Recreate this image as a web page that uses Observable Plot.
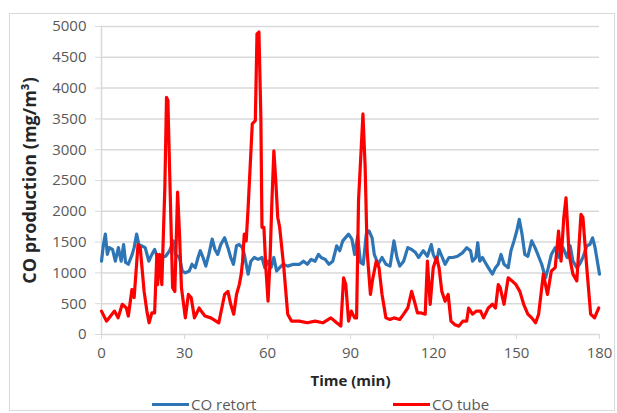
<!DOCTYPE html>
<html>
<head>
<meta charset="utf-8">
<script src="https://cdn.jsdelivr.net/npm/d3@7"></script>
<script src="https://cdn.jsdelivr.net/npm/@observablehq/plot@0.6"></script>
<style>
  html, body { margin: 0; padding: 0; background: #fff; }
  #wrap { position: relative; width: 617px; height: 413px; overflow: hidden; font-family: "Open Sans", sans-serif; }
  #frame { position: absolute; left: 9px; top: 13px; width: 606px; height: 398px; border: 1px solid #d9d9d9; box-sizing: border-box; pointer-events: none; }
  #chart { position: absolute; left: 0; top: 0; }
  .key { position: absolute; top: 394px; height: 20px; display: flex; align-items: center; font-size: 15px; color: #595959; }
  .key span.sw { display: inline-block; width: 37px; height: 3px; margin-right: 2px; }
</style>
</head>
<body>
<div id="wrap">
  <div id="chart"></div>
  <div class="key" style="left:152px"><span class="sw" style="background:#2e75b6"></span>CO retort</div>
  <div class="key" style="left:393px"><span class="sw" style="background:#ff0000"></span>CO tube</div>
  <div id="frame"></div>
</div>
<script>
// Axis ticks
const xTicks = [0, 30, 60, 90, 120, 150, 180];
const yTicks = [0, 500, 1000, 1500, 2000, 2500, 3000, 3500, 4000, 4500, 5000];

// CO retort: time (min) and concentration (mg/m3)
const retortTime = [0, 0.7, 1.4, 2.1, 2.8, 4, 5, 6.1, 7.1, 8, 8.7, 9.7, 11.1, 11.8, 12.7, 13.5, 14.4, 15.8, 17.1, 18.2,
  19.2, 20.3, 21.8, 23.2, 24.6, 26, 26.7, 28.2, 29.2, 30.3, 31.7, 32.7, 33.9, 34.9, 35.7, 36.7, 37.7, 38.8, 40, 41,
  42, 43.1, 44.5, 45.7, 46.7, 47.7, 48.8, 49.8, 50.9, 51.6, 53, 54, 55.2, 56.6, 58, 59, 60.2, 61.3, 62.3, 63.3,
  64.4, 65.6, 67.3, 69.4, 71.6, 73, 74.4, 75.8, 77.2, 78.4, 79.4, 80.8, 82.2, 83.6, 85, 86.1, 87.2, 89.3, 90.5, 91.5,
  92.6, 93.6, 94.6, 95.7, 96.7, 97.8, 98.6, 100, 101.4, 102.8, 104.3, 105.7, 106.8, 107.8, 109.2, 110.7, 112.1, 113.5, 114.6, 116.3,
  117.8, 119.2, 119.9, 121.1, 122, 123, 124.2, 125.6, 127, 128.7, 130.6, 132, 133.4, 134.1, 135.3, 136, 136.7, 137.7, 138.7, 139.8,
  141.3, 142.4, 143.4, 144.4, 145.5, 147, 148, 149.1, 150.1, 151, 152, 153, 154.1, 155.5, 156.7, 157.7, 159.1, 160.5, 161.5, 162.6,
  164, 165.4, 166.8, 168.3, 169.4, 170.4, 171.8, 172.8, 174, 175.4, 176.5, 177.5, 178.4, 180];
const retortCO = [1190, 1460, 1630, 1300, 1410, 1380, 1190, 1410, 1190, 1460, 1170, 1140, 1300, 1410, 1630, 1460, 1440, 1410, 1190, 1300,
  1380, 1250, 1250, 1270, 1360, 1520, 1300, 1250, 1030, 1000, 1030, 1140, 1085, 1250, 1360, 1250, 1110, 1300, 1550, 1380,
  1300, 1460, 1570, 1410, 1250, 1140, 1440, 1460, 1410, 1300, 980, 1190, 1250, 1220, 1250, 1085, 1190, 1085, 1250, 1030,
  1085, 1140, 1110, 1140, 1140, 1190, 1140, 1220, 1190, 1300, 1250, 1220, 1140, 1190, 1440, 1360, 1520, 1630, 1550, 1300,
  1600, 1170, 1140, 1630, 1680, 1570, 1300, 1140, 1250, 1140, 1110, 1520, 1250, 1110, 1190, 1410, 1380, 1330, 1250, 1360,
  1270, 1460, 1300, 1190, 1380, 1270, 1140, 1250, 1250, 1270, 1330, 1410, 1360, 1190, 1250, 1490, 1190, 1250, 1170, 1085,
  980, 1085, 1140, 1300, 1140, 1085, 1360, 1520, 1680, 1870, 1630, 1300, 1270, 1520, 1410, 1300, 1140, 920, 1085, 1300,
  1410, 1250, 1410, 1250, 1440, 1190, 1085, 1140, 1250, 1440, 1460, 1570, 1410, 980];

// CO tube: time (min) and concentration (mg/m3)
const tubeTime = [0, 1.8, 4.7, 6, 7.5, 9, 9.7, 11, 11.8, 13.2, 14, 15.4, 16.4, 17.2, 18.2, 19.2, 20, 20.3, 21, 21.8,
  22.9, 23.5, 24, 24.6, 25.7, 26.5, 27.5, 28.2, 28.9, 30.3, 31.4, 32.4, 33.6, 35.3, 36, 37.4, 39.5, 42.4, 44.5, 45.7,
  46.7, 47.8, 48.8, 49.8, 50.5, 51, 51.6, 52.3, 53, 54.5, 55.6, 56.2, 56.9, 57.6, 58, 58.7, 59.4, 60.2, 60.9, 61.6,
  62.3, 63, 63.7, 64.4, 65.9, 67.3, 68.7, 71.5, 74.4, 77.2, 80, 82.9, 85, 86.5, 87.5, 88.3, 89.3, 90.3, 91.5, 92.2,
  92.9, 94.5, 95.3, 96, 97.2, 97.9, 99.3, 100.3, 101.4, 102.8, 104.3, 105.7, 107.8, 109.2, 110.7, 112.1, 113.1, 114.2, 115.6, 117,
  117.8, 118.8, 119.9, 121.1, 122, 123, 124.2, 125.3, 126.3, 127.7, 129.2, 130.6, 132, 132.7, 134.1, 135.5, 137, 138.1, 139.8, 141.3,
  142.4, 143.4, 144.1, 145.5, 147, 148.4, 149.8, 151.2, 152.6, 154.1, 155.5, 156.9, 158, 159.7, 161.2, 162.6, 164, 165.2, 166.1, 167.1,
  167.9, 169, 170.4, 171.8, 173.3, 174, 175.4, 176.8, 178.2, 179.7];
const tubeCO = [380, 217, 380, 270, 490, 430, 300, 730, 600, 1460, 1410, 700, 380, 190, 350, 350, 1300, 810, 1300, 810,
  2390, 3850, 3800, 2710, 760, 700, 2310, 1630, 760, 270, 650, 600, 270, 430, 380, 300, 270, 190, 650, 700,
  490, 330, 650, 810, 980, 1190, 1630, 1520, 2060, 3420, 3470, 4880, 4910, 3530, 1740, 1740, 1085, 540, 1190, 2170,
  2980, 2490, 1900, 1740, 1085, 330, 217, 217, 190, 217, 190, 270, 190, 136, 920, 810, 217, 380, 270, 270,
  2170, 3580, 2710, 1360, 650, 870, 1190, 1085, 650, 270, 244, 270, 244, 330, 430, 700, 540, 350, 350, 330,
  1190, 490, 1085, 1250, 1085, 700, 540, 650, 217, 160, 136, 217, 217, 430, 330, 380, 380, 270, 430, 490,
  430, 810, 760, 490, 920, 870, 810, 700, 490, 330, 270, 190, 330, 980, 650, 1030, 1085, 1680, 1190, 1900,
  2220, 1300, 980, 870, 1950, 1900, 1085, 330, 270, 430];

const retort = retortTime.map((t, i) => ({t, v: retortCO[i]}));
const tube = tubeTime.map((t, i) => ({t, v: tubeCO[i]}));

const chart = Plot.plot({
  width: 617,
  height: 392,
  marginLeft: 101,
  marginRight: 18,
  marginTop: 26,
  marginBottom: 58,
  style: {fontFamily: "Open Sans, sans-serif", fontSize: "15px", color: "#595959", background: "transparent"},
  x: {domain: [0, 180]},
  y: {domain: [0, 5000]},
  marks: [
    Plot.gridY(yTicks, {stroke: "#d9d9d9", strokeOpacity: 1, strokeWidth: 1.5}),
    Plot.ruleX([0], {stroke: "#d9d9d9", strokeWidth: 1.5}),
    Plot.axisY(yTicks, {tickSize: 6, tickPadding: 9, stroke: "#d9d9d9", strokeOpacity: 1, label: null, tickFormat: d => String(d)}),
    Plot.axisX(xTicks, {tickSize: 5, tickPadding: 8, stroke: "#d9d9d9", strokeOpacity: 1, label: null}),
    Plot.line(retort, {x: "t", y: "v", stroke: "#2e75b6", strokeWidth: 3.2, curve: "linear"}),
    Plot.line(tube, {x: "t", y: "v", stroke: "#ff0000", strokeWidth: 3.2, curve: "linear"}),
    Plot.text(["Time (min)"], {text: d => d, frameAnchor: "bottom", dy: 51, fontWeight: "bold", fill: "#262626", fontSize: 15}),
    Plot.text(["CO production (mg/m³)"], {text: d => d, frameAnchor: "left", dx: -71, rotate: -90, textAnchor: "middle", fontWeight: "bold", fill: "#262626", fontSize: 18})
  ]
});
document.getElementById("chart").appendChild(chart);
</script>
</body>
</html>
